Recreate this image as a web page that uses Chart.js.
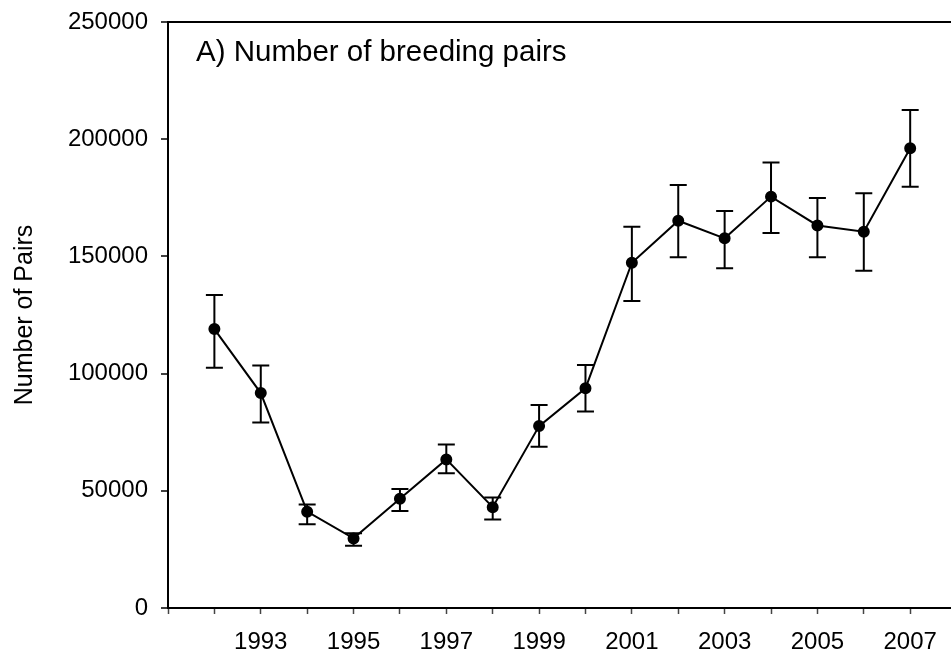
<!DOCTYPE html>
<html>
<head>
<meta charset="utf-8">
<script src="https://cdn.jsdelivr.net/npm/chart.js@4/dist/chart.umd.min.js"></script>
<style>
html,body{margin:0;padding:0;background:#fff;}
#wrap{width:951px;height:658px;position:relative;}
</style>
</head>
<body>
<div id="wrap"><canvas id="c" width="951" height="658"></canvas></div>
<script>
const years = [1992,1993,1994,1995,1996,1997,1998,1999,2000,2001,2002,2003,2004,2005,2006,2007];
const pairs = [119000,91700,41100,29700,46600,63400,43000,77600,93700,147300,165200,157700,175500,163200,160500,196100];
const upper = [133500,103500,44200,31900,50800,69700,47100,86600,103700,162700,180500,169400,190100,174900,176900,212500];
const lower = [102500,79100,35700,26600,41400,57500,37800,68800,83800,131000,149600,144900,160000,149600,143900,179700];
const xTickYears = [1991,1992,1993,1994,1995,1996,1997,1998,1999,2000,2001,2002,2003,2004,2005,2006,2007];
const xLabelYears = [1993,1995,1997,1999,2001,2003,2005,2007];
const yTicks = [0,50000,100000,150000,200000,250000];
const titleText = 'A) Number of breeding pairs';
const yTitle = 'Number of Pairs';

const FONT = 'Liberation Sans, Arial, sans-serif';

const errorBars = {
  id: 'errorBars',
  afterDatasetsDraw(chart) {
    const {ctx, scales} = chart;
    const xs = scales.x, ys = scales.y;
    ctx.save();
    ctx.strokeStyle = '#000';
    ctx.lineWidth = 2;
    const cap = 8.5;
    years.forEach((yr, i) => {
      const x = xs.getPixelForValue(yr);
      const yt = ys.getPixelForValue(upper[i]);
      const yb = ys.getPixelForValue(lower[i]);
      ctx.beginPath();
      ctx.moveTo(x, yt); ctx.lineTo(x, yb);
      ctx.moveTo(x - cap, yt); ctx.lineTo(x + cap, yt);
      ctx.moveTo(x - cap, yb); ctx.lineTo(x + cap, yb);
      ctx.stroke();
    });
    ctx.restore();
  }
};

const titlePlugin = {
  id: 'innerTitle',
  afterDraw(chart) {
    const {ctx, chartArea} = chart;
    ctx.save();
    ctx.fillStyle = '#000';
    ctx.font = '29.5px ' + FONT;
    ctx.textBaseline = 'alphabetic';
    ctx.textAlign = 'left';
    ctx.fillText(titleText, chartArea.left + 28, chartArea.top + 39);
    ctx.restore();
  }
};

new Chart(document.getElementById('c'), {
  type: 'line',
  data: {
    datasets: [{
      data: years.map((y, i) => ({x: y, y: pairs[i]})),
      borderColor: '#000',
      borderWidth: 2,
      pointRadius: 5,
      pointBackgroundColor: '#000',
      pointBorderColor: '#000',
      tension: 0,
      fill: false,
      clip: false
    }]
  },
  options: {
    responsive: false,
    animation: false,
    devicePixelRatio: 1,
    layout: {autoPadding: false, padding: {top: 22, right: 0, left: 0, bottom: 0}},
    plugins: {legend: {display: false}, tooltip: {enabled: false}, title: {display: false}},
    scales: {
      x: {
        type: 'linear',
        min: 1991,
        max: 2007.88,
        afterBuildTicks: s => { s.ticks = xTickYears.map(v => ({value: v})); },
        afterFit: s => { s.height = 50; s.paddingLeft = 0; s.paddingRight = 0; },
        grid: {drawOnChartArea: false, drawTicks: true, tickLength: 6, tickColor: '#444', tickWidth: 1.5},
        border: {display: true, color: '#000', width: 2},
        ticks: {
          autoSkip: false,
          maxRotation: 0,
          padding: 14,
          color: '#000',
          font: {family: FONT, size: 24},
          callback: v => xLabelYears.includes(v) ? String(v) : ''
        }
      },
      y: {
        min: 0,
        max: 250000,
        afterBuildTicks: s => { s.ticks = yTicks.map(v => ({value: v})); },
        afterFit: s => { s.width = 168; s.paddingTop = 0; s.paddingBottom = 0; },
        grid: {
          drawOnChartArea: true,
          drawTicks: true,
          tickLength: 7,
          tickColor: '#000',
          tickWidth: 1.5,
          lineWidth: 2,
          color: c => (c.tick && c.tick.value === 250000) ? '#000' : 'rgba(0,0,0,0)'
        },
        border: {display: true, color: '#000', width: 2},
        title: {display: true, text: yTitle, color: '#000', font: {family: FONT, size: 25}, padding: {top: 10, bottom: 0}},
        ticks: {
          padding: 13,
          color: '#000',
          font: {family: FONT, size: 24},
          callback: v => String(v)
        }
      }
    }
  },
  plugins: [errorBars, titlePlugin]
});
</script>
</body>
</html>
